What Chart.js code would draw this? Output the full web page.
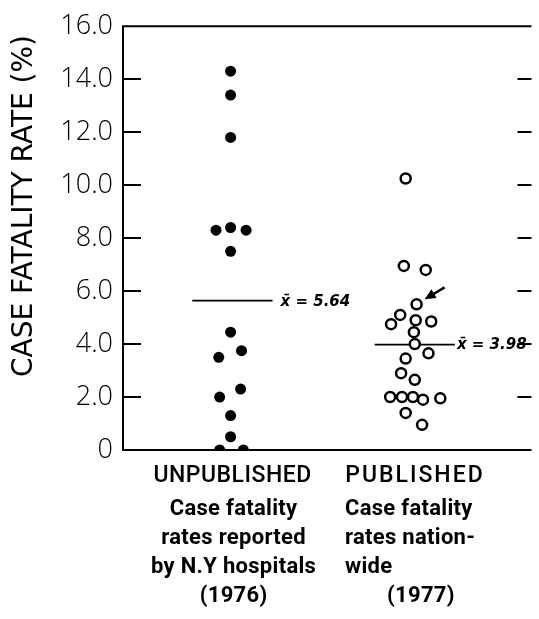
<!DOCTYPE html>
<html>
<head>
<meta charset="utf-8">
<script src="https://cdn.jsdelivr.net/npm/chart.js@4.4.0/dist/chart.umd.min.js"></script>
<style>
  html, body { margin: 0; padding: 0; background: #fff; }
</style>
</head>
<body>
<canvas id="c" width="539" height="619"></canvas>
<script>
// カテゴリ
const categories = ['UNPUBLISHED', 'PUBLISHED'];
const categoryNotes = [
  ['Case fatality', 'rates reported', 'by N.Y hospitals', '(1976)'],
  ['Case fatality', 'rates nation-', 'wide', '(1977)']
];

// 未公表 (1976) 病院ごとの致死率 (%)
const unpublishedRates = [14.3, 13.4, 11.8, 8.3, 8.4, 8.3, 7.5, 4.45, 3.5, 3.75, 2.0, 2.3, 1.3, 0.5, 0, 0];
// 点が重ならないための横ずれ
const unpublishedSpread = [0, 0, 0, -0.08, 0, 0.085, 0, 0, -0.065, 0.06, -0.06, 0.055, 0, 0, -0.06, 0.07];

// 公表 (1977) 全国の致死率 (%)
const publishedRates = [10.25, 6.95, 6.8, 5.5, 5.1, 4.75, 4.9, 4.85, 4.45, 4.0, 3.65, 3.45, 2.9, 2.65, 2.0, 2.0, 2.0, 1.9, 1.95, 1.4, 0.95];
const publishedSpread = [-0.04, -0.05, 0.07, 0.02, -0.07, -0.12, 0.015, 0.1, 0.005, 0.01, 0.085, -0.04, -0.065, 0.01, -0.125, -0.06, 0, 0.055, 0.15, -0.04, 0.05];

// 平均値
const means = [5.64, 3.98];
const arrowIndex = 3; // 矢印が指す点 (published)

const yTickLabels = ['0', '2.0', '4.0', '6.0', '8.0', '10.0', '12.0', '14.0', '16.0'];
const yTitle = 'CASE FATALITY RATE (%)';

function toPoints(rates, spread, cat) {
  return rates.map((r, i) => ({ x: cat + spread[i], y: r }));
}

// 枠、目盛り、平均線
const decor = {
  id: 'decor',
  beforeDatasetsDraw(chart) {
    const { ctx, chartArea: a, scales: { x, y } } = chart;
    ctx.save();
    ctx.strokeStyle = '#000';
    ctx.lineWidth = 2;
    ctx.beginPath();
    ctx.moveTo(a.right, a.top); ctx.lineTo(a.left, a.top);
    ctx.lineTo(a.left, a.bottom); ctx.lineTo(a.right, a.bottom);
    ctx.stroke();
    // 内向きの目盛り
    for (let v = 2; v <= 14; v += 2) {
      const py = Math.round(y.getPixelForValue(v));
      ctx.beginPath();
      ctx.moveTo(a.left, py); ctx.lineTo(a.left + 18, py);
      ctx.moveTo(a.right - 14, py); ctx.lineTo(a.right, py);
      ctx.stroke();
    }
    // 平均線
    ctx.lineWidth = 1.6;
    ctx.font = 'bold italic 15px "DejaVu Sans"';
    ctx.fillStyle = '#000';
    ctx.textBaseline = 'middle';
    means.forEach((m, i) => {
      const py = y.getPixelForValue(m);
      const x0 = x.getPixelForValue(i - 0.21);
      const x1 = x.getPixelForValue(i + 0.23);
      ctx.beginPath();
      ctx.moveTo(x0, py); ctx.lineTo(x1, py);
      ctx.stroke();
      ctx.fillText('x\u0304 = ' + m.toFixed(2), x1 + (i === 0 ? 8 : 2), py + 1);
    });
    ctx.restore();
  },
  afterDraw(chart) {
    const { ctx, scales: { x, y } } = chart;
    ctx.save();
    ctx.fillStyle = '#000';
    ctx.strokeStyle = '#000';

    // 縦軸タイトル
    ctx.save();
    ctx.translate(25, 206);
    ctx.rotate(-Math.PI / 2);
    ctx.font = '28px "DejaVu Sans"';
    ctx.textAlign = 'center';
    ctx.textBaseline = 'middle';
    ctx.fillText(yTitle, 0, 0);
    ctx.restore();

    // 矢印
    const px = x.getPixelForValue(1 + publishedSpread[arrowIndex]);
    const py = y.getPixelForValue(publishedRates[arrowIndex]);
    const tx = px + 28, ty = py - 17;
    const hx = px + 8, hy = py - 5;
    const ang = Math.atan2(hy - ty, hx - tx);
    ctx.lineWidth = 2.5;
    ctx.beginPath(); ctx.moveTo(tx, ty); ctx.lineTo(hx - 5 * Math.cos(ang), hy - 5 * Math.sin(ang)); ctx.stroke();
    ctx.beginPath();
    ctx.moveTo(hx, hy);
    ctx.lineTo(hx - 11 * Math.cos(ang) + 5 * Math.sin(ang), hy - 11 * Math.sin(ang) - 5 * Math.cos(ang));
    ctx.lineTo(hx - 11 * Math.cos(ang) - 5 * Math.sin(ang), hy - 11 * Math.sin(ang) + 5 * Math.cos(ang));
    ctx.closePath(); ctx.fill();

    // カテゴリ名と説明
    ctx.textBaseline = 'middle';
    categories.forEach((c, i) => {
      const cx = x.getPixelForValue(i);
      ctx.font = '500 23px Roboto';
      ctx.letterSpacing = i === 0 ? '0.5px' : '2px';
      ctx.textAlign = 'center';
      ctx.fillText(c, cx + 2, 476);
      ctx.font = 'bold 22px Roboto';
      ctx.letterSpacing = '0.3px';
      categoryNotes[i].forEach((line, j) => {
        const ly = 509 + j * 29;
        if (i === 0 || j === 3) {
          ctx.textAlign = 'center';
          ctx.fillText(line, cx + (i === 0 ? 3 : 8), ly);
        } else {
          ctx.textAlign = 'left';
          ctx.fillText(line, cx - 68, ly);
        }
      });
    });
    ctx.restore();
  }
};

new Chart(document.getElementById('c'), {
  type: 'scatter',
  data: {
    datasets: [
      {
        label: categories[0],
        data: toPoints(unpublishedRates, unpublishedSpread, 0),
        pointRadius: 5.5,
        pointBackgroundColor: '#000',
        pointBorderColor: '#000',
        pointBorderWidth: 0
      },
      {
        label: categories[1],
        data: toPoints(publishedRates, publishedSpread, 1),
        pointRadius: 5,
        pointBackgroundColor: '#fff',
        pointBorderColor: '#000',
        pointBorderWidth: 2.5
      }
    ]
  },
  options: {
    responsive: false,
    animation: false,
    layout: { padding: { top: 21, right: 0, left: 0, bottom: 0 } },
    plugins: { legend: { display: false }, tooltip: { enabled: false } },
    scales: {
      x: {
        type: 'linear', min: -0.59, max: 1.65,
        grid: { display: false }, border: { display: false },
        ticks: { display: false },
        afterFit: (s) => { s.height = 169; }
      },
      y: {
        min: 0, max: 16,
        grid: { display: false, drawTicks: false }, border: { display: false },
        ticks: {
          stepSize: 2, padding: 10, color: '#000',
          font: { family: 'Open Sans', size: 27, weight: 300 },
          callback: (v) => yTickLabels[v / 2]
        },
        afterFit: (s) => { s.width = 123; }
      }
    }
  },
  plugins: [decor]
});
</script>
</body>
</html>
